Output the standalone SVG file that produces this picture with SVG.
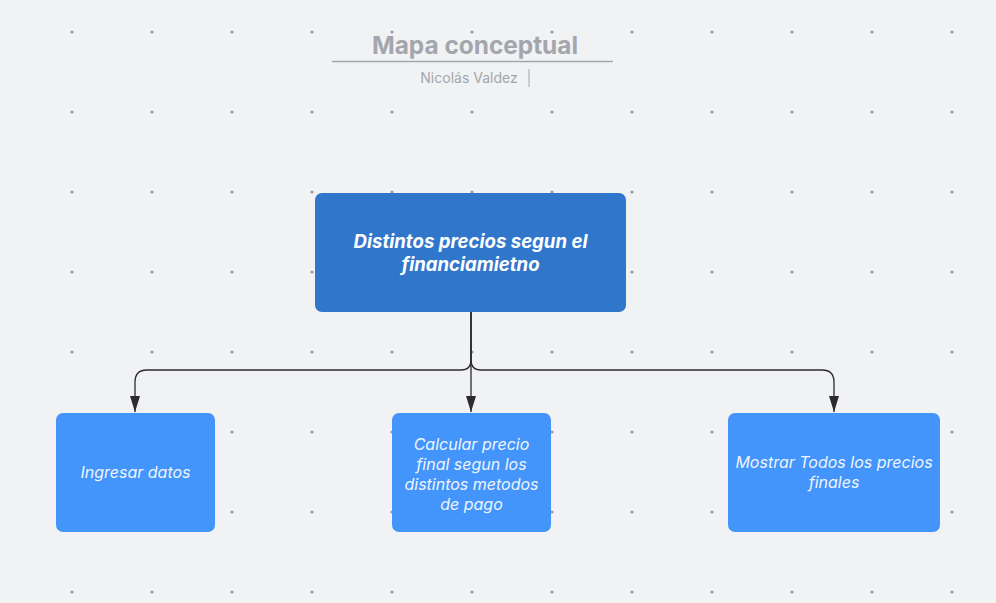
<svg xmlns="http://www.w3.org/2000/svg" width="996" height="603" viewBox="0 0 996 603">
<defs>
<pattern id="dots" x="0" y="0" width="80" height="80" patternUnits="userSpaceOnUse">
<circle cx="72" cy="32" r="1.6" fill="#9a9ca1"/>
</pattern>
<marker id="arr" viewBox="0 0 16 10" refX="16" refY="5" markerWidth="16" markerHeight="10" markerUnits="userSpaceOnUse" orient="auto">
<path d="M0,0 L16,5 L0,10 Z" fill="#2b2b2e"/>
</marker>
<style>
.main{fill:#3077cc}
.sub{fill:#4394fb}
.mt{font-family:Inter,"Liberation Sans",sans-serif;font-size:18.6px;font-weight:700;font-style:italic;fill:#ffffff;text-anchor:middle}
.st{font-family:Inter,"Liberation Sans",sans-serif;font-size:16px;font-style:italic;fill:#eef4ff;text-anchor:middle}
.conn{fill:none;stroke:#2b2b2e;stroke-width:1.3}
</style>
</defs>
<rect width="996" height="603" fill="#f1f2f4"/>
<rect width="996" height="603" fill="url(#dots)"/>
<g id="title">
<text x="475" y="54" font-family="Inter,'Liberation Sans',sans-serif" font-size="24.4" font-weight="700" fill="#a3a6ad" text-anchor="middle">Mapa conceptual</text>
<line x1="332" y1="61.5" x2="613" y2="61.5" stroke="#a3a6ad" stroke-width="1.3"/>
<text x="469" y="83" font-family="Inter,'Liberation Sans',sans-serif" font-size="14" fill="#a3a6ad" text-anchor="middle">Nicolás Valdez</text>
<line x1="529" y1="69" x2="529" y2="87" stroke="#a3a6ad" stroke-width="1"/>
</g>
<g id="connectors">
<path class="conn" d="M471,312 V360 Q471,370 461,370 H147 Q135,370 135,382 V412" marker-end="url(#arr)"/>
<path class="conn" d="M471,312 V412" marker-end="url(#arr)"/>
<path class="conn" d="M471,312 V360 Q471,370 481,370 H822 Q834,370 834,382 V412" marker-end="url(#arr)"/>
</g>
<g id="node-main">
<rect class="main" x="315" y="193" width="311" height="119" rx="7"/>
<text class="mt" x="470.5" y="248">Distintos precios segun el</text>
<text class="mt" x="470.5" y="271">financiamietno</text>
</g>
<g id="node-ingresar">
<rect class="sub" x="56" y="413" width="159" height="119" rx="7"/>
<text class="st" x="135.5" y="478">Ingresar datos</text>
</g>
<g id="node-calcular">
<rect class="sub" x="392" y="413" width="159" height="119" rx="7"/>
<text class="st" x="471.5" y="450">Calcular precio</text>
<text class="st" x="471.5" y="470">final segun los</text>
<text class="st" x="471.5" y="490">distintos metodos</text>
<text class="st" x="471.5" y="510">de pago</text>
</g>
<g id="node-mostrar">
<rect class="sub" x="728" y="413" width="212" height="119" rx="7"/>
<text class="st" x="834" y="468">Mostrar Todos los precios</text>
<text class="st" x="834" y="488">finales</text>
</g>
</svg>
